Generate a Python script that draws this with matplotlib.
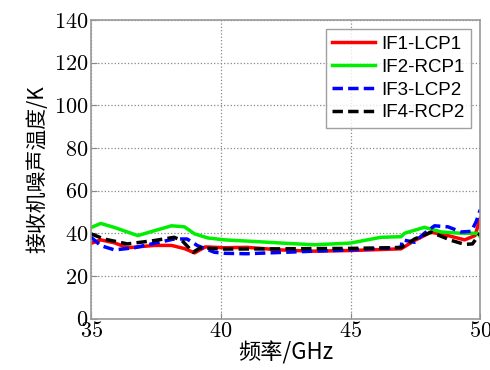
import matplotlib
matplotlib.use("Agg")
import matplotlib.pyplot as plt

plt.rcParams['font.family'] = ['cmr10', 'DejaVu Serif']
plt.rcParams['axes.formatter.use_mathtext'] = True
plt.rcParams['mathtext.fontset'] = 'cm'

# frequency (GHz) and receiver noise temperature (K)
f_red = [35.0, 35.37, 35.9, 36.4, 37.44, 38.1, 38.6, 38.99, 39.4, 40.15, 41.0, 42.3, 43.5, 45.0,
         46.95, 47.47, 48.1, 48.76, 49.4, 49.8, 50.0]
t_red = [35.3, 36.9, 35.5, 33.2, 34.3, 34.3, 32.8, 30.8, 33.6, 33.2, 33.4, 32.2, 31.6, 31.9,
         32.7, 36.6, 40.5, 38.9, 36.9, 38.9, 47.0]

f_green = [35.0, 35.37, 35.9, 36.8, 37.44, 38.1, 38.6, 38.99, 39.5, 40.15, 41.5, 42.5, 43.6, 45.0,
           46.17, 46.95, 47.08, 47.85, 48.5, 49.27, 49.9, 50.0]
t_green = [42.7, 44.6, 42.7, 38.9, 41.2, 43.5, 43.0, 39.7, 37.8, 36.9, 36.0, 35.3, 34.6, 35.4,
           38.1, 38.4, 40.0, 42.8, 40.6, 40.0, 40.0, 38.4]

f_blue = [35.0, 35.37, 35.9, 36.67, 37.44, 38.2, 38.7, 39.1, 39.75, 40.15, 41.0, 42.3, 43.6, 45.0,
          46.95, 47.0, 47.47, 47.85, 48.24, 48.76, 49.27, 49.66, 49.85, 50.0]
t_blue = [38.1, 34.2, 32.2, 33.2, 35.3, 37.3, 37.3, 34.2, 31.1, 30.6, 30.4, 31.0, 31.6, 32.2,
          33.4, 36.9, 35.8, 40.0, 43.5, 43.0, 40.6, 40.9, 45.6, 51.0]

f_black = [35.0, 35.5, 36.4, 37.44, 38.2, 38.5, 38.93, 39.2, 40.15, 42.3, 45.0, 46.95, 47.47,
           48.1, 48.9, 49.4, 49.7, 50.0]
t_black = [39.7, 37.3, 35.0, 36.6, 38.1, 36.6, 31.1, 33.1, 32.6, 32.7, 32.9, 33.3, 37.3,
           40.5, 36.6, 34.8, 35.0, 40.0]

labels = ['IF1-LCP1', 'IF2-RCP1', 'IF3-LCP2', 'IF4-RCP2']

fig = plt.figure(figsize=(4.9, 3.7), dpi=100)
ax = fig.add_axes([0.186, 0.139, 0.794, 0.807])

kw = dict(lw=2.5, solid_joinstyle='round', dash_joinstyle='round')
ax.plot(f_red, t_red, color='#ff0000', label=labels[0], **kw)
ax.plot(f_green, t_green, color='#00ee00', label=labels[1], **kw)
ax.plot(f_blue, t_blue, color='#0000ff', ls=(0, (3, 1.5)), label=labels[2], **kw)
ax.plot(f_black, t_black, color='#000000', ls=(0, (3, 1.5)), label=labels[3], **kw)

ax.set_xlim(35, 50)
ax.set_ylim(0, 140)
ax.set_xticks([35, 40, 45, 50])
ax.set_yticks(range(0, 141, 20))
ax.grid(True, ls=':', color='#888888', lw=0.9)
ax.tick_params(direction='in', labelsize=16, length=4, color='#888888', pad=2)
for s in ax.spines.values():
    s.set_color('#999999')
    s.set_linewidth(1.2)

cjk = ['Noto Sans CJK SC', 'DejaVu Sans']
ax.set_xlabel('频率/GHz', fontsize=16, family=cjk, labelpad=0)
ax.set_ylabel('接收机噪声温度/K', fontsize=15, family=cjk, labelpad=4)

leg = ax.legend(loc='upper right', prop={'family': 'Liberation Sans', 'size': 13.5},
                fancybox=False, handlelength=2.3, handletextpad=0.3,
                borderpad=0.35, labelspacing=0.3, borderaxespad=0.5)
leg.get_frame().set_edgecolor('#888888')
leg.get_frame().set_linewidth(1.0)

fig.savefig('out.png', dpi=100)
